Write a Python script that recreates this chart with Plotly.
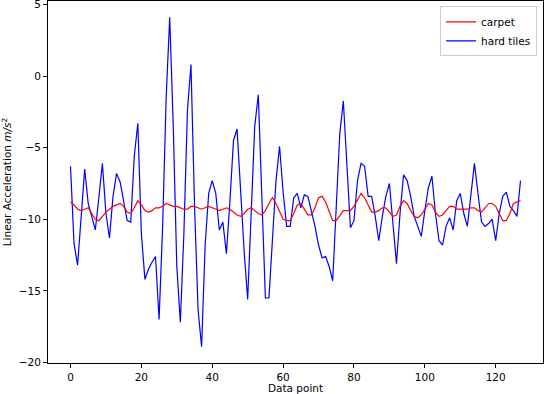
import plotly.graph_objects as go

data_points = list(range(128))

carpet = [
    -8.8, -9.0, -9.3, -9.4, -9.3, -9.2, -9.6, -10.0, -10.1, -9.8,
    -9.5, -9.3, -9.1, -9.0, -8.9, -9.1, -9.5, -9.6, -9.2, -8.7,
    -9.0, -9.4, -9.5, -9.4, -9.2, -9.2, -9.1, -8.9, -9.0, -9.1,
    -9.1, -9.2, -9.3, -9.3, -9.1, -9.1, -9.2, -9.3, -9.2, -9.1,
    -9.2, -9.3, -9.4, -9.3, -9.2, -9.3, -9.5, -9.7, -9.8, -9.6,
    -9.3, -9.2, -9.4, -9.6, -9.7, -9.4, -8.9, -8.5, -8.9, -9.5,
    -10.0, -10.1, -10.1, -9.6, -9.0, -8.9, -9.3, -9.7, -9.7, -9.2,
    -8.5, -8.4, -8.8, -9.5, -10.1, -10.1, -9.7, -9.4, -9.4, -9.4,
    -9.1, -8.6, -8.2, -8.5, -9.0, -9.5, -9.5, -9.4, -9.2, -9.2,
    -9.5, -9.8, -9.7, -9.1, -8.7, -8.9, -9.4, -9.8, -9.9, -9.7,
    -9.3, -8.9, -9.0, -9.5, -9.8, -9.7, -9.4, -9.1, -9.1, -9.3,
    -9.3, -9.3, -9.3, -9.2, -9.2, -9.4, -9.5, -9.2, -8.9, -8.9,
    -9.1, -9.6, -10.1, -10.1, -9.6, -8.9, -8.8, -8.7,
]

hard_tiles = [
    -6.3, -11.7, -13.2, -9.8, -6.5, -8.9, -9.8, -10.75, -8.5, -6.1,
    -9.6, -11.3, -8.4, -6.8, -7.4, -8.7, -10.1, -10.2, -5.6, -3.3,
    -11.0, -14.2, -13.5, -13.0, -12.6, -17.0, -10.5, -1.5, 4.1, -3.5,
    -13.3, -17.2, -11.0, -2.4, 0.8, -9.0, -16.3, -18.9, -11.8, -8.2,
    -7.3, -8.2, -10.75, -10.2, -12.4, -8.7, -4.5, -3.7, -8.1, -12.2,
    -15.6, -9.8, -3.5, -1.3, -8.7, -15.5, -15.5, -11.0, -7.3, -4.9,
    -8.1, -10.5, -10.5, -8.5, -8.2, -9.2, -8.3, -8.4, -9.4, -10.5,
    -11.8, -12.7, -12.6, -13.3, -14.3, -9.1, -4.0, -1.75, -6.3, -10.6,
    -10.1, -7.3, -6.1, -6.3, -8.4, -8.4, -9.8, -11.5, -9.8, -8.4,
    -7.5, -10.5, -13.1, -9.6, -6.9, -7.3, -8.4, -9.8, -10.5, -11.2,
    -9.4, -7.8, -7.0, -9.6, -11.5, -11.8, -10.5, -9.9, -10.75, -8.7,
    -8.2, -9.6, -10.5, -8.2, -6.1, -8.2, -10.2, -10.5, -10.3, -10.0,
    -11.5, -9.6, -8.4, -8.1, -9.1, -9.4, -9.8, -7.3,
]

x_ticks = [0, 20, 40, 60, 80, 100, 120]
y_ticks = [5, 0, -5, -10, -15, -20]

fig = go.Figure()
fig.add_trace(go.Scatter(x=data_points, y=hard_tiles, mode="lines", name="hard tiles",
                         legendrank=2, line=dict(color="#0000ff", width=1.2)))
fig.add_trace(go.Scatter(x=data_points, y=carpet, mode="lines", name="carpet",
                         legendrank=1, line=dict(color="#ff0000", width=1.2)))

axis_common = dict(
    showgrid=False, zeroline=False, showline=True, linecolor="black", linewidth=1,
    mirror=True, ticks="outside", ticklen=4, tickcolor="black", tickwidth=1,
    automargin=False, ticklabeloverflow="allow",
    tickfont=dict(family="DejaVu Sans", size=10.5, color="black"),
)

fig.update_layout(
    width=544, height=394,
    margin=dict(l=48, r=1, t=1, b=31),
    paper_bgcolor="white", plot_bgcolor="white",
    font=dict(family="DejaVu Sans", size=10.5, color="black"),
    xaxis=dict(range=[-6.35, 133.35], tickvals=x_ticks,
               title=dict(text="Data point", font=dict(size=10.5), standoff=13), **axis_common),
    yaxis=dict(range=[-20.04, 5.24], tickvals=y_ticks,
               title=dict(text="Linear Acceleration <i>m/s</i><sup>2</sup>", font=dict(size=10.5), standoff=6),
               **axis_common),
    legend=dict(x=0.988, y=0.985, xanchor="right", yanchor="top",
                bgcolor="white", bordercolor="#cccccc", borderwidth=1,
                font=dict(family="DejaVu Sans", size=10.5), tracegroupgap=0,
                traceorder="normal", itemwidth=30),
)

fig.write_html("out.html", config={"displayModeBar": False},
               post_script="document.body.style.margin='0';document.body.style.padding='0';")
